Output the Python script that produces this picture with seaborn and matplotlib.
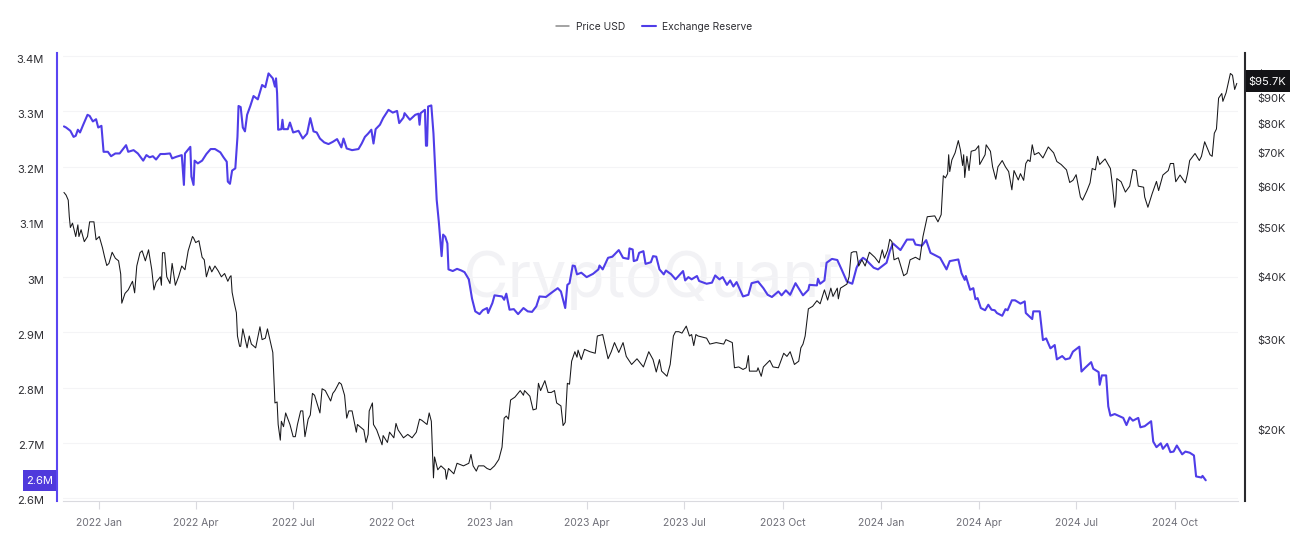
import matplotlib
matplotlib.use("Agg")
import matplotlib.pyplot as plt
from matplotlib.lines import Line2D
from matplotlib.transforms import ScaledTranslation
import pandas as pd
import seaborn as sns

START = pd.Timestamp("2021-11-29")

# (days since START, exchange reserve in millions)
reserve_2022 = [(0,3.273),(2,3.271),(6,3.265),(9,3.254),(11,3.256),(13,3.267),(15,3.262),(18,3.276),(22,3.294),(24,3.292),
 (27,3.282),(30,3.286),(32,3.271),(35,3.274),(37,3.227),(41,3.227),(44,3.219),(48,3.224),(52,3.224),(58,3.239),
 (60,3.227),(65,3.230),(69,3.224),(74,3.211),(77,3.221),(80,3.217),(83,3.219),(86,3.213),(90,3.223),(94,3.223),
 (99,3.224),(101,3.215),(105,3.218),(110,3.221),(112,3.167),(113,3.224),(118,3.236),(119,3.182),(121,3.167),(122,3.211),
 (125,3.206),(129,3.211),(133,3.223),(137,3.232),(141,3.232),(146,3.226),(149,3.217),(152,3.209),(153,3.173),(155,3.169),
 (157,3.193),(160,3.197),(162,3.254),(163,3.310),(165,3.308),(167,3.271),(169,3.264),(171,3.294),(174,3.310),(177,3.328),
 (181,3.322),(185,3.348),(188,3.344),(191,3.369),(195,3.360),(197,3.345),(198,3.360),(199,3.333),(200,3.267),(203,3.268),
 (204,3.285),(205,3.268),(209,3.268),(211,3.280),(214,3.262),(219,3.265),(223,3.251),(227,3.260),(230,3.288),(233,3.264),
 (236,3.262),(239,3.251),(243,3.244),(247,3.241),(251,3.245),(255,3.250),(259,3.235),(261,3.251),(264,3.233),(269,3.230),
 (275,3.232),(278,3.242),(281,3.254),(284,3.260),(287,3.267),(289,3.242),(291,3.268),(295,3.276),(298,3.288),(303,3.303),
 (307,3.298),(311,3.301),(313,3.279),(317,3.289),(318,3.297),(323,3.285),(328,3.294),(331,3.296),(332,3.276),(333,3.297),
 (337,3.303),(338,3.238),(339,3.238),(340,3.309),(343,3.311),(345,3.260),(348,3.140),(350,3.100),(352.6,3.038),(354,3.077),
 (356,3.073),(358,3.061),(359,3.014),(363,3.011),(367,3.015),(371,3.012),(374,3.009),(378,2.996),(381,2.961),(384,2.938),
 (388,2.933),(391,2.940),(395,2.944),(396,2.935)]
reserve_2023 = [(400,2.953),(402,2.967),(409,2.965),(411,2.959),(413,2.970),(416,2.941),(420,2.942),(424,2.933),(429,2.944),(433,2.938),
 (437,2.937),(441,2.947),(444,2.965),(450,2.964),(454,2.970),(461,2.980),(464,2.974),(468,2.944),(470,2.986),(472,2.989),
 (475,3.021),(477,3.020),(479,3.005),(483,3.008),(488,3.000),(494,3.006),(499,3.014),(500,3.021),(503,3.014),(508,3.035),
 (512,3.037),(514,3.041),(518,3.049),(522,3.035),(527,3.033),(528,3.052),(531,3.050),(532,3.029),(535,3.031),(537,3.044),
 (541,3.047),(543,3.024),(548,3.027),(550,3.038),(553,3.037),(556,3.014),(560,3.005),(562,3.012),(567,3.005),(571,2.996),
 (578,3.011),(580,2.994),(583,3.000),(586,2.996),(591,3.002),(593,2.993),(600,2.988),(605,2.990),(608,3.003),(612,2.996),
 (615,3.000),(619,2.986),(622,2.994),(625,2.983),(628,2.991),(634,2.965),(639,2.968),(642,2.989),(648,2.992),(653,2.980),
 (657,2.968),(661,2.964),(667,2.974),(670,2.967),(674,2.976),(678,2.968),(683,2.989),(690,2.967),(695,2.977),(696,2.986),
 (703,2.985),(704,2.997),(706,2.988),(710,2.994),(712,3.026),(717,3.033),(722,3.031),(726,3.014),(731,2.992),(736,2.988),
 (740,3.017),(743,3.029),(746,3.035),(749,3.031),(756,3.017),(760,3.014)]
reserve_2024 = [(768,3.026),(771,3.047),(774,3.061),(781,3.049),(787,3.068),(793,3.068),(795,3.059),(801,3.057),(805,3.067),(809,3.044),
 (818,3.035),(824,3.014),(827,3.029),(835,3.032),(838,3.007),(841,2.995),(842,3.002),(846,2.977),(849,2.980),(851,2.960),
 (853,2.962),(856,2.944),(860,2.940),(863,2.950),(866,2.941),(869,2.940),(871,2.935),(876,2.930),(879,2.942),(881,2.940),
 (885,2.958),(888,2.958),(893,2.952),(897,2.956),(898,2.935),(904,2.924),(905,2.938),(911,2.938),(914,2.886),(917,2.889),
 (921,2.871),(925,2.877),(927,2.851),(932,2.857),(935,2.851),(939,2.853),(942,2.865),(948,2.874),(950,2.829),(953,2.835),
 (959,2.846),(961,2.834),(966,2.828),(967,2.805),(969,2.822),(973,2.822),(975,2.766),(977,2.749),(981,2.752),(989,2.745),
 (992,2.732),(995,2.746),(998,2.740),(1003,2.745),(1005,2.728),(1009,2.730),(1015,2.739),(1017,2.702),(1020,2.692),(1024,2.699),
 (1026,2.689),(1030,2.698),(1033,2.683),(1036,2.684),(1039,2.695),(1044,2.679),(1047,2.684),(1051,2.682),(1055,2.677),(1057,2.639),
 (1062,2.637),(1063,2.640),(1066,2.632)]

# (days since START, BTC price in thousand USD)
price_2022 = [(0,58.6),(2,57.9),(4,56.6),(5,52.5),(6,50.0),(8,51.0),(9,50.0),(11,48.0),(13,50.6),(14,48.0),
 (16,49.5),(19,46.9),(22,48.0),(24,51.3),(28,51.3),(30,47.3),(33,48.0),(36,45.6),(38,43.7),(40,42.1),
 (42,42.5),(45,44.7),(48,43.5),(51,43.0),(53,40.5),(54,35.5),(57,37.1),(60,37.7),(64,39.2),(66,37.2),
 (68,42.0),(71,44.6),(73,45.0),(76,43.0),(79,45.2),(82,41.3),(84,37.7),(86,39.0),(90,40.0),(91,38.5),
 (92,44.6),(94,44.6),(96,40.0),(99,38.8),(101,42.5),(104,38.5),(107,40.0),(110,42.0),(113,41.3),(116,45.0),
 (120,48.0),(121,47.7),(123,46.7),(126,47.1),(129,43.7),(131,43.2),(133,40.0),(136,42.0),(138,40.9),(141,42.0),
 (144,41.1),(147,40.0),(150,40.6),(153,39.2),(155,40.0),(156,40.2),(157,37.3),(159,35.5),(161,34.0),(162,30.6),
 (164,29.2),(165,29.2),(167,31.6),(169,30.3),(171,29.0),(173,30.6),(175,29.5),(179,29.0),(183,31.9),(185,30.1),
 (188,30.3),(190,31.6),(192,30.3),(195,28.4),(197,22.6),(199,22.7),(200,20.5),(202,19.1),(203,20.8),(205,20.3),
 (207,21.6),(211,20.5),(214,19.4),(216,19.4),(218,20.5),(221,21.8),(223,21.8),(225,19.4),(228,21.0),(230,21.4),
 (232,23.6),(234,23.4),(239,21.6),(241,24.1),(244,23.9),(249,22.8),(251,23.6),(253,23.9),(257,24.8),(259,24.6),
 (262,23.4),(264,21.1),(266,21.8),(269,21.8),(273,19.8),(274,20.5),(280,20.0),(282,18.9),(284,19.6),(285,21.8),
 (288,22.6),(289,20.5),(292,20.0),(297,18.7),(298,19.5),(302,18.9),(304,19.8),(308,19.3),(310,20.6),(312,20.0),
 (317,19.3),(321,19.6),(325,19.3),(329,19.8),(332,21.0),(334,20.9),(339,20.5),(341,21.6),(343,20.8),(345,16.1),
 (346,17.7),(349,16.7),(352,17.0),(356,16.7),(357,16.0),(359,16.8),(364,16.4),(367,17.2),(373,17.0),(378,17.2),
 (380,17.9),(382,17.0),(385,16.6),(387,17.0),(392,17.0),(395,16.8)]
price_2023 = [(398,16.7),(402,17.0),(406,17.5),(409,18.5),(411,21.1),(413,21.3),(415,21.0),(417,22.9),(421,23.2),(426,23.9),
 (429,23.4),(430,23.9),(435,23.3),(438,21.9),(441,22.0),(443,24.7),(445,23.9),(449,25.0),(452,23.7),(455,23.7),
 (458,23.9),(460,22.6),(464,22.3),(466,20.4),(468,20.7),(470,24.7),(472,24.6),(474,27.3),(477,28.5),(479,27.8),
 (480,28.7),(483,27.5),(486,28.8),(491,28.5),(496,28.3),(498,30.6),(503,30.8),(505,29.5),(508,27.6),(511,28.5),
 (514,29.7),(518,28.4),(522,29.7),(525,27.9),(530,26.9),(535,27.6),(541,26.6),(546,28.5),(550,27.5),(553,26.0),
 (556,27.5),(558,26.1),(563,25.5),(566,26.9),(569,30.6),(571,31.2),(574,31.2),(577,31.0),(581,32.0),(584,30.6),
 (586,30.8),(588,29.3),(590,30.8),(592,30.6),(600,30.3),(603,29.5),(609,29.7),(616,29.5),(618,30.1),(624,29.7),
 (626,26.5),(630,26.6),(634,26.3),(637,26.5),(639,28.0),(640,26.1),(647,26.1),(648,26.5),(651,25.5),(653,26.6),
 (659,27.4),(662,26.6),(667,26.5),(672,28.3),(675,27.9),(678,28.5),(682,26.9),(686,27.3),(688,29.0),(690,29.5),
 (692,30.6),(695,34.6),(699,35.0),(703,35.9),(706,35.4),(710,37.7),(713,36.0),(716,38.0),(718,36.6),(722,38.0),
 (723,36.2),(725,38.0),(731,38.7),(733,40.0),(735,44.6),(737,44.8),(740,44.8),(742,42.0),(745,43.2),(748,42.0),
 (752,44.7),(757,43.7),(761,42.6)]
price_2024 = [(764,45.2),(766,43.5),(769,45.1),(771,47.4),(773,46.9),(775,43.2),(779,43.6),(784,40.2),(787,40.6),(790,43.2),
 (795,43.7),(799,43.2),(802,48.0),(806,52.5),(813,52.7),(816,51.3),(819,53.0),(821,63.2),(823,62.6),(825,63.8),
 (826,69.5),(827,64.4),(829,67.9),(832,70.1),(835,74.1),(837,71.0),(839,66.2),(840,69.5),(841,62.7),(843,69.0),
 (845,64.7),(847,70.6),(851,71.0),(854,72.4),(855,66.5),(860,69.5),(861,72.7),(865,70.6),(867,65.8),(870,62.2),
 (872,65.8),(876,67.7),(879,65.8),(882,64.4),(885,59.3),(887,64.7),(891,62.0),(893,63.8),(896,61.9),(898,66.8),
 (900,67.9),(902,67.4),(904,72.7),(906,69.5),(910,70.2),(914,68.5),(919,72.0),(924,70.1),(927,67.4),(931,66.5),
 (936,64.9),(939,61.3),(942,61.9),(945,63.5),(949,57.4),(951,56.6),(955,59.0),(958,61.2),(960,65.3),(963,64.9),
 (965,69.0),(967,66.5),(972,68.2),(977,65.3),(979,60.3),(981,54.8),(982,56.6),(983,62.4),(987,61.5),(991,58.7),
 (995,60.3),(998,65.0),(1001,64.7),(1003,60.3),(1008,60.0),(1009,57.4),(1012,54.8),(1016,58.3),(1020,61.6),(1022,59.1),
 (1026,63.4),(1031,64.7),(1033,66.8),(1036,66.8),(1038,61.5),(1042,63.4),(1047,61.2),(1049,63.8),(1051,67.7),(1056,69.9),
 (1060,67.7),(1062,69.0),(1065,73.7),(1070,69.5),(1072,69.0),(1074,76.6),(1076,78.1),(1078,89.8),(1081,91.7),(1082,88.5),
 (1085,92.0),(1089,100.4),(1091,99.6),(1093,93.4),(1095,96.0)]

reserve_ticks = [2.6, 2.7, 2.8, 2.9, 3.0, 3.1, 3.2, 3.3, 3.4]
reserve_labels = ["2.6M", "2.7M", "2.8M", "2.9M", "3M", "3.1M", "3.2M", "3.3M", "3.4M"]
price_ticks = [20, 30, 40, 50, 60, 70, 80, 90, 100]
price_labels = ["$20K", "$30K", "$40K", "$50K", "$60K", "$70K", "$80K", "$90K", "$100K"]
date_ticks = ["2022-01-01", "2022-04-01", "2022-07-01", "2022-10-01", "2023-01-01", "2023-04-01",
              "2023-07-01", "2023-10-01", "2024-01-01", "2024-04-01", "2024-07-01", "2024-10-01"]
date_labels = ["2022 Jan", "2022 Apr", "2022 Jul", "2022 Oct", "2023 Jan", "2023 Apr",
               "2023 Jul", "2023 Oct", "2024 Jan", "2024 Apr", "2024 Jul", "2024 Oct"]
latest_reserve_label = "2.6M"
latest_price_label = "$95.7K"

PURPLE = "#4F3DE8"
BADGE = "#4F39DC"
BLACK = "#17171A"
GRID = "#F4F4F6"


def frame(pairs):
    d = pd.DataFrame(pairs, columns=["day", "value"])
    d["date"] = START + pd.to_timedelta(d["day"], unit="D")
    return d


sns.set_theme(style="white")
plt.rcParams["font.family"] = ["Inter", "DejaVu Sans"]

W, H = 1310, 538
fig = plt.figure(figsize=(W / 100, H / 100), dpi=100, facecolor="white")
ax = fig.add_axes([63.3 / W, 1 - 501 / H, (1238.3 - 63.3) / W, (501 - 53.3) / H])
ax2 = ax.twinx()

reserve = frame(reserve_2022 + reserve_2023 + reserve_2024)
price = frame(price_2022 + price_2023 + price_2024)

ax.text(0.5, 0.493, "CryptoQuant", transform=ax.transAxes, ha="center", va="center",
        fontsize=45, color="#F2F2F5", zorder=0)

sns.lineplot(data=reserve, x="date", y="value", ax=ax, color=PURPLE, linewidth=1.5,
             estimator=None, sort=False, legend=False, zorder=3)
sns.lineplot(data=price, x="date", y="value", ax=ax2, color=BLACK, linewidth=0.75,
             estimator=None, sort=False, legend=False, zorder=3)

xlim = (START + pd.Timedelta(days=-0.6), START + pd.Timedelta(days=1096.4))
ax.set_xlim(*xlim)
ax.set_ylim(2.5945, 3.4054)
ax2.set_yscale("log")
ax2.set_ylim(14.5, 110)
ax.set_xlabel("")
ax.set_ylabel("")
ax2.set_xlabel("")
ax2.set_ylabel("")

ax.set_xticks(pd.to_datetime(date_ticks))
ax.set_xticklabels(date_labels)
ax.tick_params(axis="x", length=5.5, width=0.8, color="#DADADF", pad=6.5, bottom=True,
               labelsize=7.5, labelcolor="#6F6F78")

ax.set_yticks(reserve_ticks)
ax.set_yticklabels(reserve_labels)
ax.tick_params(axis="y", length=0, pad=9.4, labelsize=8, labelcolor="#2E2E33")
ax.yaxis.grid(True, color=GRID, linewidth=0.8)
ax.xaxis.grid(False)
ax.set_axisbelow(True)

ax2.set_yticks(price_ticks)
ax2.set_yticklabels(price_labels)
ax2.minorticks_off()
ax2.tick_params(axis="y", which="both", length=0, pad=9.4, labelsize=8, labelcolor="#2E2E33")
ax2.grid(False)

for a in (ax, ax2):
    for s in ("top", "left", "right"):
        a.spines[s].set_visible(False)
ax.spines["bottom"].set_visible(True)
ax.spines["bottom"].set_color("#DADADF")
ax.spines["bottom"].set_linewidth(0.8)
ax2.spines["bottom"].set_visible(False)

ax.spines["left"].set_visible(True)
ax.spines["left"].set_position(("outward", 4.4))
ax.spines["left"].set_color("#5A45F2")
ax.spines["left"].set_linewidth(1.5)
ax2.spines["right"].set_visible(True)
ax2.spines["right"].set_position(("outward", 4.6))
ax2.spines["right"].set_color("#2A2A2E")
ax2.spines["right"].set_linewidth(1.5)

# the left labels sit a little below their gridlines
shift = ScaledTranslation(0, -2.5 / 100, fig.dpi_scale_trans)
for label in ax.get_yticklabels():
    label.set_transform(label.get_transform() + shift)

# value badges on both axes
fig.patches.append(plt.Rectangle((23 / W, 1 - 491.3 / H), 33 / W, 21.3 / H, transform=fig.transFigure,
                                 fc=BADGE, ec="none", zorder=5))
fig.text(39.5 / W, 1 - 481 / H, latest_reserve_label, ha="center", va="center", fontsize=8, color="white", zorder=6)
fig.patches.append(plt.Rectangle((1245.5 / W, 1 - 91.7 / H), 44.5 / W, 21.7 / H, transform=fig.transFigure,
                                 fc="#131316", ec="none", zorder=5))
fig.text(1267.5 / W, 1 - 82 / H, latest_price_label, ha="center", va="center",
         fontsize=8, color="white", zorder=6)

handles = [Line2D([], [], color="#8A8A8A", lw=1.1), Line2D([], [], color=PURPLE, lw=1.5)]
fig.legend(handles, ["Price USD", "Exchange Reserve"], loc="center", bbox_to_anchor=(654 / W, 1 - 26.5 / H),
           ncol=2, frameon=False, fontsize=7.4, handlelength=1.3, handletextpad=0.6, columnspacing=1.7,
           labelcolor="#2E2E33")

fig.savefig("out.png", dpi=100, facecolor="white")
